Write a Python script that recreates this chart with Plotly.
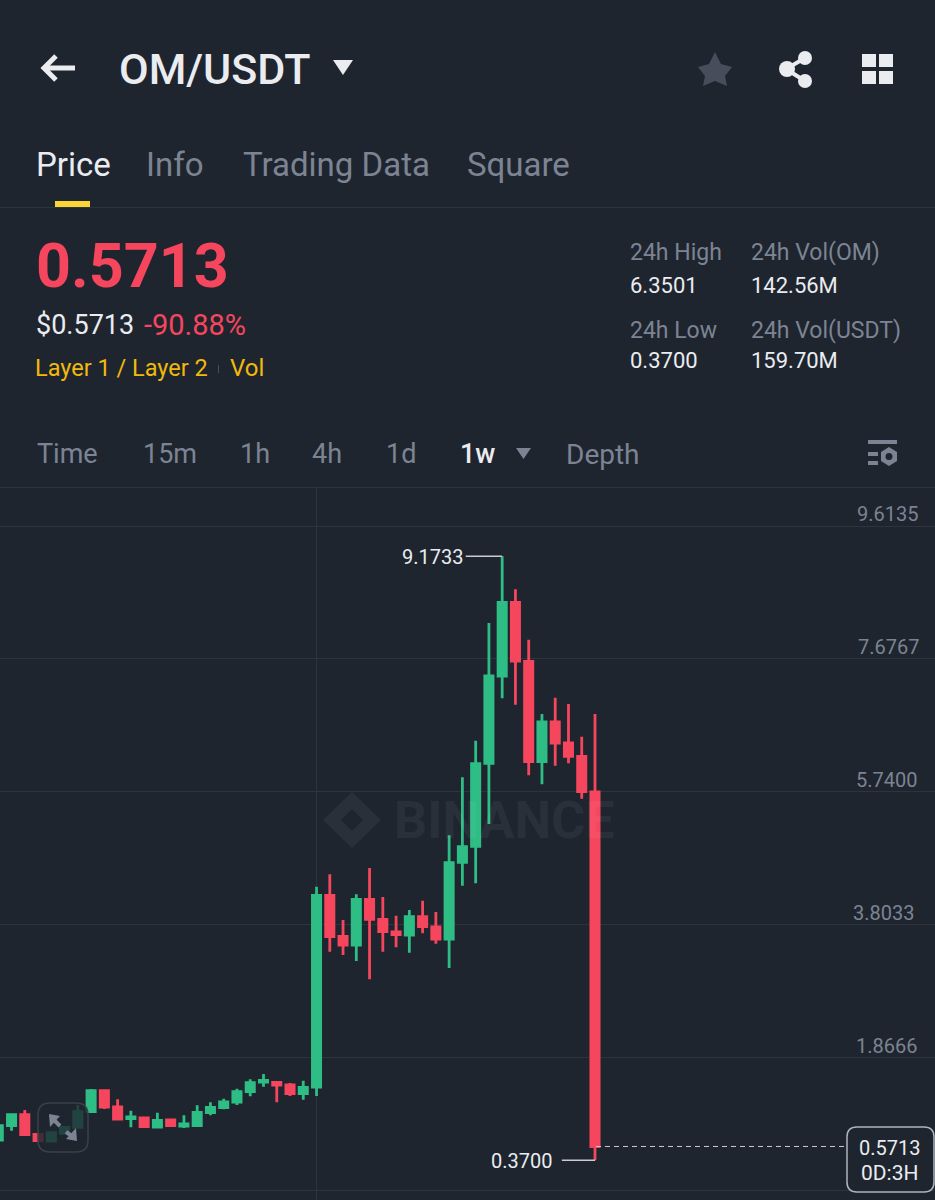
import plotly.graph_objects as go

# weekly candles
idx = list(range(46))
open_ = [0.6657, 0.8741, 1.0344, 0.7487, 0.6511, 0.7633, 0.8508, 1.0781, 1.3841, 1.1466, 0.9790, 0.9863,
         0.8551, 0.9571, 0.8697, 0.8741, 1.0635, 1.1364, 1.2195, 1.3696, 1.5109, 1.5065, 1.4672, 1.3404,
         1.4380, 4.2317, 3.6342, 3.5074, 4.1734, 3.8819, 3.6969, 3.6531, 3.9198, 3.7697, 3.5949, 4.7126,
         4.9458, 6.1553, 7.4275, 8.5016, 7.6417, 6.1786, 6.7572, 6.4512, 6.2573, 5.7400]
close = [0.8741, 1.0344, 0.7429, 0.6555, 0.7721, 0.8508, 1.0781, 1.3841, 1.1466, 0.9717, 1.0009, 0.8595,
         0.9528, 0.8741, 0.8989, 1.0693, 1.1422, 1.2195, 1.3696, 1.5007, 1.5328, 1.4672, 1.3404, 1.4337,
         4.2317, 3.6284, 3.5074, 4.1734, 3.8819, 3.7012, 3.6575, 3.9198, 3.7741, 3.5949, 4.7068, 4.9400,
         6.1495, 7.4275, 8.5016, 7.6461, 6.1786, 6.7572, 6.4512, 6.2573, 5.7415, 0.5713]
high = [0.8843, 1.0344, 1.1029, 0.7487, 0.7721, 0.8508, 1.1757, 1.4089, 1.3841, 1.2588, 1.0927, 0.9965,
        1.0635, 0.9673, 1.0256, 1.1714, 1.2151, 1.2675, 1.4133, 1.5503, 1.6275, 1.5211, 1.4963, 1.5299,
        4.3570, 4.5377, 3.8717, 4.2463, 4.6295, 4.2069, 3.9344, 4.0175, 4.1530, 3.9883, 5.1061, 5.9513,
        6.4847, 8.1999, 9.1733, 8.6910, 7.9565, 6.8738, 7.1113, 7.0195, 6.5430, 6.8738]
low = [0.6657, 0.8012, 0.7429, 0.6555, 0.6365, 0.7633, 0.8508, 1.0635, 1.1174, 0.9571, 0.8508, 0.8551,
       0.8362, 0.8595, 0.8406, 0.8741, 1.0256, 1.1131, 1.1757, 1.3025, 1.4424, 1.2151, 1.3069, 1.2530,
       1.3069, 3.4098, 3.3617, 3.2742, 3.0075, 3.4098, 3.4739, 3.3952, 3.6779, 3.5264, 3.1722, 4.3716,
       4.4066, 5.2707, 7.1026, 7.0093, 5.9805, 5.8493, 6.1204, 6.1553, 5.6394, 0.3700]

axis_ticks = [9.6135, 7.6767, 5.7400, 3.8033, 1.8666, -0.0701]
axis_labels = ["9.6135", "7.6767", "5.7400", "3.8033", "1.8666"]
axis_label_x = [920, 921, 919, 916, 919]
last_price = 0.5713
peak_price = 9.1733
floor_price = 0.3700

BG = "#1f252f"
GRID = "#2e343e"
GREEN = "#2ebd85"
RED = "#f6465d"
WHITE = "#eaecef"
GREY = "#7c8493"
YELLOW = "#f0b90b"
FONT = "Roboto"
W, H = 935, 1200


def px(x):
    return x / W


def py(y):
    return 1 - y / H


def poly(points, close_it=True):
    d = "M" + " L".join(f"{px(x):.5f},{py(y):.5f}" for x, y in points)
    return d + (" Z" if close_it else "")


def round_box(x0, y0, x1, y1, r):
    return (f"M{px(x0 + r):.5f},{py(y0):.5f} L{px(x1 - r):.5f},{py(y0):.5f} Q{px(x1):.5f},{py(y0):.5f} {px(x1):.5f},{py(y0 + r):.5f} "
            f"L{px(x1):.5f},{py(y1 - r):.5f} Q{px(x1):.5f},{py(y1):.5f} {px(x1 - r):.5f},{py(y1):.5f} "
            f"L{px(x0 + r):.5f},{py(y1):.5f} Q{px(x0):.5f},{py(y1):.5f} {px(x0):.5f},{py(y1 - r):.5f} "
            f"L{px(x0):.5f},{py(y0 + r):.5f} Q{px(x0):.5f},{py(y0):.5f} {px(x0 + r):.5f},{py(y0):.5f} Z")


fig = go.Figure(
    go.Candlestick(
        x=idx,
        open=open_,
        high=high,
        low=low,
        close=close,
        whiskerwidth=0,
        increasing=dict(line=dict(color=GREEN, width=2.8), fillcolor=GREEN),
        decreasing=dict(line=dict(color=RED, width=2.8), fillcolor=RED),
        showlegend=False,
    )
)


def label(x, y, text, size, color=WHITE, anchor="left", weight=400):
    fig.add_annotation(
        x=px(x - 1), y=py(y), xref="paper", yref="paper", text=text, showarrow=False,
        xanchor=anchor, yanchor="middle", borderpad=0,
        font=dict(family=FONT, size=size, color=color, weight=weight),
    )


def fill_shape(points, color):
    fig.add_shape(type="path", xref="paper", yref="paper", path=poly(points),
                  fillcolor=color, line=dict(width=0))


def stroke(points, color, width=3):
    fig.add_shape(type="path", xref="paper", yref="paper", path=poly(points, False),
                  line=dict(color=color, width=width))


def rect(x0, y0, x1, y1, color):
    fig.add_shape(type="rect", xref="paper", yref="paper", x0=px(x0), x1=px(x1), y0=py(y0), y1=py(y1),
                  fillcolor=color, line=dict(width=0))


def circle(cx, cy, r, color):
    fig.add_shape(type="circle", xref="paper", yref="paper", x0=px(cx - r), x1=px(cx + r),
                  y0=py(cy - r), y1=py(cy + r), fillcolor=color, line=dict(width=0))


# header
stroke([(75, 68), (44, 68)], WHITE, 5)
stroke([(56, 56), (44, 68), (56, 80)], WHITE, 5)
label(119, 69, "OM/USDT", 43, WHITE, weight=500)
fill_shape([(333, 60), (353, 60), (343, 75)], WHITE)
fill_shape([(715, 52), (721, 64), (732, 67), (725, 76), (727, 86), (715, 81), (703, 86), (705, 76), (698, 67), (709, 64)], "#474d5b")
stroke([(805, 58), (786, 69), (805, 81)], WHITE, 4)
circle(787, 69, 8, WHITE)
circle(805, 58, 7, WHITE)
circle(805, 81, 7, WHITE)
for x0, x1 in [(862, 876), (879, 893)]:
    rect(x0, 54, x1, 67, WHITE)
    rect(x0, 71, x1, 84, WHITE)

# tabs
label(36, 165, "Price", 33, WHITE)
label(146, 165, "Info", 33, GREY)
label(243, 165, "Trading Data", 33, GREY)
label(467, 165, "Square", 33, GREY)
rect(55, 201, 90, 207, "#fcd535")
rect(0, 207, W, 208, GRID)

# ticker block
label(36, 266, "0.5713", 61, RED, weight=700)
label(36, 325, "$0.5713", 27, WHITE)
label(144, 325, "-90.88%", 29, RED)
label(35, 368, "Layer 1 / Layer 2", 23.5, YELLOW)
rect(218, 365, 219, 373, "#474d5b")
label(230, 368, "Vol", 24, YELLOW)
label(630, 253, "24h High", 23, GREY)
label(751, 253, "24h Vol(OM)", 23, GREY)
label(630, 285, "6.3501", 22, WHITE)
label(751, 285, "142.56M", 22, WHITE)
label(630, 330, "24h Low", 23, GREY)
label(751, 330, "24h Vol(USDT)", 23, GREY)
label(630, 361, "0.3700", 22, WHITE)
label(751, 361, "159.70M", 22, WHITE)

# interval tabs
label(37, 454, "Time", 27, GREY)
label(143, 454, "15m", 27, GREY)
label(240, 454, "1h", 27, GREY)
label(312, 454, "4h", 27, GREY)
label(386, 454, "1d", 27, GREY)
label(460, 454, "1w", 27, WHITE, weight=500)
fill_shape([(516, 448), (531, 448), (523.5, 459)], GREY)
label(566, 454, "Depth", 28, GREY)
rect(868, 440, 897, 444, GREY)
rect(868, 452, 878, 456, GREY)
rect(868, 461, 878, 465, GREY)
fill_shape([(889, 447), (897, 452), (897, 461), (889, 466), (881, 461), (881, 452)], GREY)
circle(889, 456.5, 3.5, BG)
rect(0, 487, W, 488, GRID)

# watermark, translucent so the candles still read through it
fig.add_annotation(x=px(392), y=py(820), xref="paper", yref="paper", text="BINANCE", showarrow=False,
                   xanchor="left", yanchor="middle",
                   font=dict(family=FONT, size=52, color="rgba(255,255,255,0.05)", weight=700))
fill_shape([(352, 792), (381, 820), (352, 848), (323, 820)], "#2a3039")
fill_shape([(352, 809), (363, 820), (352, 831), (341, 820)], BG)

# axis labels above their grid lines
for val, text, x in zip(axis_ticks, axis_labels, axis_label_x):
    fig.add_annotation(x=px(x), y=val, xref="paper", yref="y", text=text, showarrow=False,
                       xanchor="right", yanchor="bottom", yshift=-2,
                       font=dict(family=FONT, size=20, color=GREY))

# high / low markers
fig.add_annotation(x=38, y=peak_price, xref="x", yref="y", text=f"{peak_price:.4f}", showarrow=False,
                   xanchor="right", yanchor="middle", xshift=-37, yshift=-1, font=dict(family=FONT, size=20, color=WHITE))
fig.add_shape(type="line", x0=35.25, x1=38, y0=peak_price, y1=peak_price, xref="x", yref="y",
              line=dict(color="#c9ccd2", width=1.5))
fig.add_annotation(x=45, y=floor_price, xref="x", yref="y", text=f"{floor_price:.4f}", showarrow=False,
                   xanchor="right", yanchor="middle", xshift=-41, yshift=-1, font=dict(family=FONT, size=20, color=WHITE))
fig.add_shape(type="line", x0=42.5, x1=45, y0=floor_price, y1=floor_price, xref="x", yref="y",
              line=dict(color="#c9ccd2", width=1.5))

# last price line and its box
fig.add_shape(type="line", xref="paper", x0=px(596), x1=px(848), y0=last_price, y1=last_price, yref="y",
              line=dict(color="#c9ccd2", width=1, dash="5px,4px"))
fig.add_shape(type="path", xref="paper", yref="paper", path=round_box(847, 1127, 934, 1192, 10),
              fillcolor=BG, line=dict(color="#aeb4bf", width=1.5))
label(890, 1148, f"{last_price:.4f}", 20, WHITE, "center")
label(890, 1173, "0D:3H", 21, WHITE, "center")

# expand button floats over the candles
fig.add_shape(type="path", xref="paper", yref="paper", path=round_box(38, 1103, 88, 1152, 12),
              fillcolor="rgba(31,37,47,0.8)", line=dict(color="#3a404b", width=1.5))
fill_shape([(49, 1114), (60, 1116), (50, 1127)], GREY)
fill_shape([(77, 1141), (66, 1139), (76, 1128)], GREY)
stroke([(53, 1119), (60, 1126)], GREY, 4)
stroke([(66, 1132), (73, 1137)], GREY, 4)

fig.update_layout(
    width=W,
    height=H,
    margin=dict(l=0, r=0, t=0, b=0),
    paper_bgcolor=BG,
    plot_bgcolor=BG,
    boxgap=0.38,
    boxgroupgap=0,
    showlegend=False,
    xaxis=dict(range=[0.13, 70.64], rangeslider=dict(visible=False), showgrid=True, gridcolor=GRID, gridwidth=1,
               tickmode="array", tickvals=[24], showticklabels=False, ticks="", zeroline=False, showline=False),
    yaxis=dict(range=[-0.2087, 10.1673], domain=[0, 712 / 1200], showgrid=True, gridcolor=GRID, gridwidth=1,
               tickmode="array", tickvals=axis_ticks, showticklabels=False, ticks="", zeroline=False, showline=False),
)

fig.write_html("out.html", config=dict(displayModeBar=False),
               post_script="document.body.style.margin='0';document.body.style.overflow='hidden';")
